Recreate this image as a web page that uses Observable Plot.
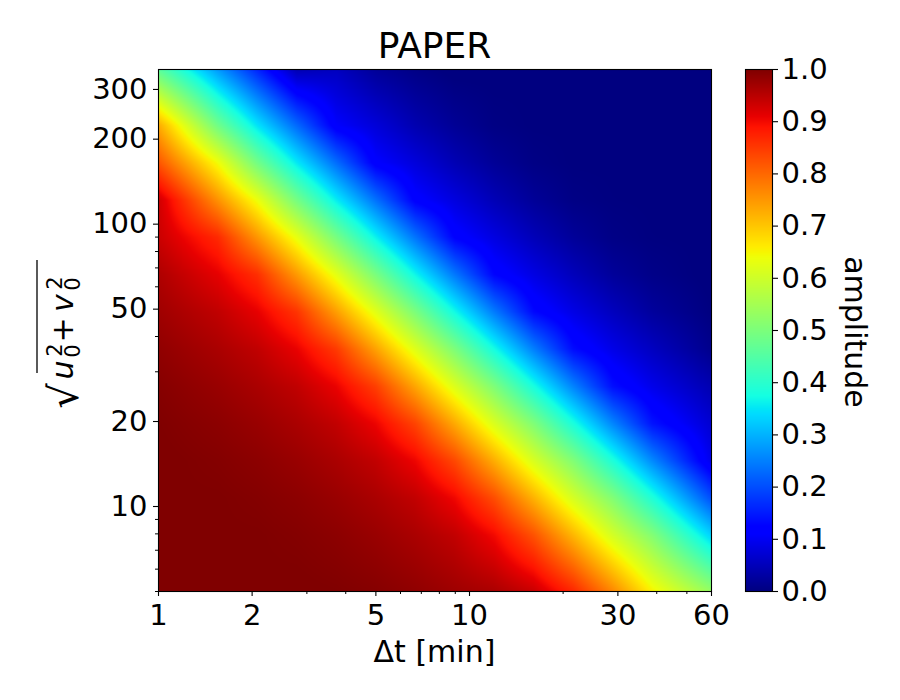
<!DOCTYPE html>
<html><head><meta charset="utf-8">
<script src="https://cdn.jsdelivr.net/npm/d3@7"></script>
<script src="https://cdn.jsdelivr.net/npm/@observablehq/plot@0.6"></script>
<style>
body{margin:0;background:#fff;}
#wrap{position:relative;width:900px;height:700px;font-family:"DejaVu Sans";}
#wrap svg{position:absolute;left:0;top:0;}
</style></head><body><div id="wrap"></div>
<script>
const title = "PAPER";
const xLabel = "Δt [min]";
const cbarLabel = "amplitude";

const dtRange = [1, 60];
const speedRange = [5, 353];
const dtSamples = [1.157, 1.551, 2.078, 2.783, 3.728, 4.995, 6.692, 8.966, 12.01, 16.09, 21.56, 28.88, 38.70, 51.84];
const speedSamples = [303.2, 223.7, 165.1, 121.8, 89.86, 66.30, 48.92, 36.09, 26.63, 19.65, 14.50, 10.69, 7.89, 5.82];
// amplitudeRows[j][i] at speed = speedSamples[j], dt = dtSamples[i]
const amplitudeRows = [
  [0.482, 0.346, 0.223, 0.105, 0.074, 0.040, 0.018, 0.004, 0.000, 0.000, 0.000, 0.000, 0.000, 0.000],
  [0.648, 0.486, 0.349, 0.228, 0.110, 0.077, 0.042, 0.019, 0.004, 0.000, 0.000, 0.000, 0.000, 0.000],
  [0.761, 0.642, 0.489, 0.354, 0.232, 0.114, 0.079, 0.045, 0.020, 0.005, 0.000, 0.000, 0.000, 0.000],
  [0.873, 0.756, 0.637, 0.492, 0.358, 0.236, 0.119, 0.082, 0.047, 0.021, 0.005, 0.001, 0.000, 0.000],
  [0.913, 0.867, 0.752, 0.632, 0.495, 0.363, 0.239, 0.123, 0.084, 0.049, 0.022, 0.006, 0.001, 0.000],
  [0.944, 0.912, 0.861, 0.748, 0.628, 0.498, 0.367, 0.243, 0.127, 0.086, 0.051, 0.023, 0.008, 0.001],
  [0.963, 0.944, 0.911, 0.855, 0.743, 0.624, 0.500, 0.371, 0.246, 0.131, 0.088, 0.054, 0.025, 0.009],
  [0.978, 0.963, 0.944, 0.909, 0.849, 0.739, 0.621, 0.502, 0.375, 0.250, 0.135, 0.090, 0.056, 0.026],
  [0.989, 0.978, 0.963, 0.944, 0.908, 0.844, 0.735, 0.618, 0.504, 0.379, 0.254, 0.138, 0.092, 0.059],
  [0.996, 0.989, 0.978, 0.963, 0.943, 0.906, 0.839, 0.731, 0.615, 0.506, 0.382, 0.257, 0.143, 0.095],
  [1.000, 0.996, 0.989, 0.978, 0.963, 0.943, 0.905, 0.834, 0.727, 0.613, 0.508, 0.386, 0.261, 0.149],
  [1.000, 1.000, 0.996, 0.989, 0.978, 0.963, 0.943, 0.903, 0.829, 0.722, 0.610, 0.509, 0.389, 0.264],
  [1.000, 1.000, 1.000, 0.996, 0.989, 0.978, 0.963, 0.943, 0.901, 0.824, 0.718, 0.608, 0.511, 0.392],
  [1.000, 1.000, 1.000, 1.000, 0.996, 0.989, 0.978, 0.963, 0.942, 0.899, 0.819, 0.714, 0.606, 0.512]
];

const xMajorTicks = [1, 2, 5, 10, 30, 60];
const xMinorTicks = [3, 4, 6, 7, 8, 9, 20, 40, 50];
const yMajorTicks = [10, 20, 50, 100, 200, 300];
const yMinorTicks = [5, 6, 7, 8, 9, 30, 40, 60, 70, 80, 90];
const cbarTicks = [0.0, 0.1, 0.2, 0.3, 0.4, 0.5, 0.6, 0.7, 0.8, 0.9, 1.0];

// matplotlib "jet" colormap segments
const jr = d3.scaleLinear([0, 0.35, 0.66, 0.89, 1], [0, 0, 1, 1, 0.5]).clamp(true);
const jg = d3.scaleLinear([0, 0.125, 0.375, 0.64, 0.91, 1], [0, 0, 1, 1, 0, 0]).clamp(true);
const jb = d3.scaleLinear([0, 0.11, 0.34, 0.65, 1], [0.5, 1, 1, 0, 0]).clamp(true);
function jet(t) { return d3.rgb(255 * jr(t), 255 * jg(t), 255 * jb(t)).toString(); }

const samples = [];
speedSamples.forEach((s, j) => dtSamples.forEach((dt, i) => samples.push({dt, speed: s, amp: amplitudeRows[j][i]})));

// bilinear shading of the regular sample grid, in value space (linear beyond the outer centres)
function bilinear(index, width, height, X, Y, V) {
  const nx = dtSamples.length, ny = speedSamples.length;
  const grid = new Float64Array(nx * ny);
  for (const i of index) {
    const gx = Math.min(nx - 1, Math.max(0, Math.floor(X[i] * nx / width)));
    const gy = Math.min(ny - 1, Math.max(0, Math.floor(Y[i] * ny / height)));
    grid[gy * nx + gx] = V[i];
  }
  const out = new Array(width * height);
  for (let py = 0; py < height; ++py) {
    const fy = (py + 0.5) * ny / height - 0.5;
    const y0 = Math.min(ny - 2, Math.max(0, Math.floor(fy))), ty = fy - y0;
    for (let px = 0; px < width; ++px) {
      const fx = (px + 0.5) * nx / width - 0.5;
      const x0 = Math.min(nx - 2, Math.max(0, Math.floor(fx))), tx = fx - x0;
      const a = grid[y0 * nx + x0], b = grid[y0 * nx + x0 + 1];
      const c = grid[(y0 + 1) * nx + x0], d = grid[(y0 + 1) * nx + x0 + 1];
      const v = (1 - ty) * ((1 - tx) * a + tx * b) + ty * ((1 - tx) * c + tx * d);
      out[py * width + px] = Math.max(0, Math.min(1, v));
    }
  }
  return out;
}

const FONT = "DejaVu Sans";
const svgStyle = {fontFamily: FONT, background: "transparent", overflow: "visible", color: "black"};

const main = Plot.plot({
  width: 900, height: 700,
  marginLeft: 158, marginRight: 189, marginTop: 69, marginBottom: 109,
  style: svgStyle,
  x: {type: "log", domain: dtRange},
  y: {type: "log", domain: speedRange},
  color: {type: "linear", domain: [0, 1], interpolate: jet},
  marks: [
    Plot.raster(samples, {x: "dt", y: "speed", fill: "amp", pixelSize: 1, interpolate: bilinear}),
    Plot.frame({stroke: "black", strokeWidth: 1.1}),
    Plot.axisX({ticks: xMajorTicks, tickSize: 5, tickPadding: 8, fontSize: 29, tickFormat: d => String(d), label: null, strokeWidth: 1.1}),
    Plot.axisX({ticks: xMinorTicks, tickSize: 3, tickFormat: () => "", label: null, strokeWidth: 1}),
    Plot.axisY({ticks: yMajorTicks, tickSize: 5, tickPadding: 6, fontSize: 29, tickFormat: d => String(d), label: null, strokeWidth: 1.1}),
    Plot.axisY({ticks: yMinorTicks, tickSize: 3, tickFormat: () => "", label: null, strokeWidth: 1})
  ]
});

const cbar = Plot.plot({
  width: 900, height: 700,
  marginLeft: 745, marginRight: 128, marginTop: 69, marginBottom: 109,
  style: svgStyle,
  x: {domain: [0, 1], axis: null},
  y: {domain: [0, 1]},
  color: {type: "linear", domain: [0, 1], interpolate: jet},
  marks: [
    Plot.raster({x1: 0, x2: 1, y1: 0, y2: 1, fill: (x, y) => y, pixelSize: 1}),
    Plot.frame({stroke: "black", strokeWidth: 1.1}),
    Plot.axisY({anchor: "right", ticks: cbarTicks, tickFormat: d => d.toFixed(1), tickSize: 5, tickPadding: 4, fontSize: 29, label: null, strokeWidth: 1.1})
  ]
});

const wrap = document.getElementById("wrap");
wrap.appendChild(main);
wrap.appendChild(cbar);

const svg = d3.select(main);
svg.append("text").attr("x", 434.5).attr("y", 58).attr("text-anchor", "middle")
  .attr("font-size", 36).attr("font-family", FONT).attr("fill", "black").text(title);
svg.append("text").attr("x", 434.5).attr("y", 661.5).attr("text-anchor", "middle")
  .attr("font-size", 30).attr("font-family", FONT).attr("fill", "black").text(xLabel);
d3.select(cbar).append("text").attr("transform", "translate(845,332) rotate(90)").attr("text-anchor", "middle")
  .attr("font-size", 30).attr("font-family", FONT).attr("fill", "black").text(cbarLabel);

// y label: sqrt(u_0^2 + v_0^2), rotated
const g = svg.append("g").attr("transform", "translate(73,397) rotate(-90)")
  .attr("font-family", FONT).attr("fill", "black");
g.append("text").attr("x", 1).attr("y", 5).attr("font-size", 40).text("√");
g.append("line").attr("x1", 24).attr("x2", 137).attr("y1", -36).attr("y2", -36)
  .attr("stroke", "black").attr("stroke-width", 1.3);
function part(txt, x, y, size, italic) {
  g.append("text").attr("x", x).attr("y", y).attr("font-size", size)
    .attr("font-style", italic ? "italic" : "normal").text(txt);
}
part("u", 27, 0, 30, true);
part("2", 47, -11, 21, false);
part("0", 46, 7, 21, false);
part("+", 67, 0, 30, false);
part("v", 94, 0, 30, true);
part("2", 114, -11, 21, false);
part("0", 113, 7, 21, false);
</script></body></html>
